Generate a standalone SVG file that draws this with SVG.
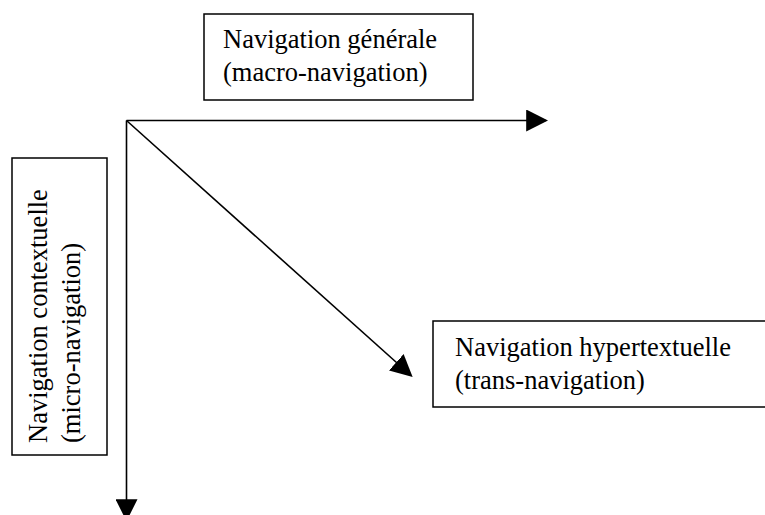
<svg xmlns="http://www.w3.org/2000/svg" width="765" height="515" viewBox="0 0 765 515">
<style>
.box{fill:#fff;stroke:#000;stroke-width:1.5}
.lbl{font-family:"Liberation Serif","Times New Roman",serif;font-size:26.5px;fill:#000}
.conn{stroke:#000;stroke-width:1.6;fill:none}
</style>
<defs>
<marker id="ah" markerUnits="userSpaceOnUse" markerWidth="22" markerHeight="22" refX="18" refY="10" orient="auto" viewBox="0 0 20 20">
<path d="M0,0 L20,10 L0,20 z" fill="#000"/>
</marker>
</defs>
<rect width="765" height="515" fill="#fff"/>
<g id="connectors">
<line class="conn" x1="126.5" y1="120.5" x2="546" y2="120.5" marker-end="url(#ah)"/>
<line class="conn" x1="126.5" y1="120.5" x2="126.5" y2="519" marker-end="url(#ah)"/>
<line class="conn" x1="126.5" y1="120.5" x2="411" y2="375.5" marker-end="url(#ah)"/>
</g>
<g id="node-macro">
<rect class="box" x="204" y="14" width="269" height="86"/>
<text class="lbl" x="223" y="47.5">Navigation générale</text>
<text class="lbl" x="223" y="81">(macro-navigation)</text>
</g>
<g id="node-micro">
<rect class="box" x="12" y="158" width="95" height="297"/>
<text class="lbl" transform="translate(47,443) rotate(-90)">Navigation contextuelle</text>
<text class="lbl" transform="translate(80,443) rotate(-90)">(micro-navigation)</text>
</g>
<g id="node-trans">
<rect class="box" x="433" y="321" width="340" height="86"/>
<text class="lbl" x="455" y="356">Navigation hypertextuelle</text>
<text class="lbl" x="455" y="389">(trans-navigation)</text>
</g>
</svg>
